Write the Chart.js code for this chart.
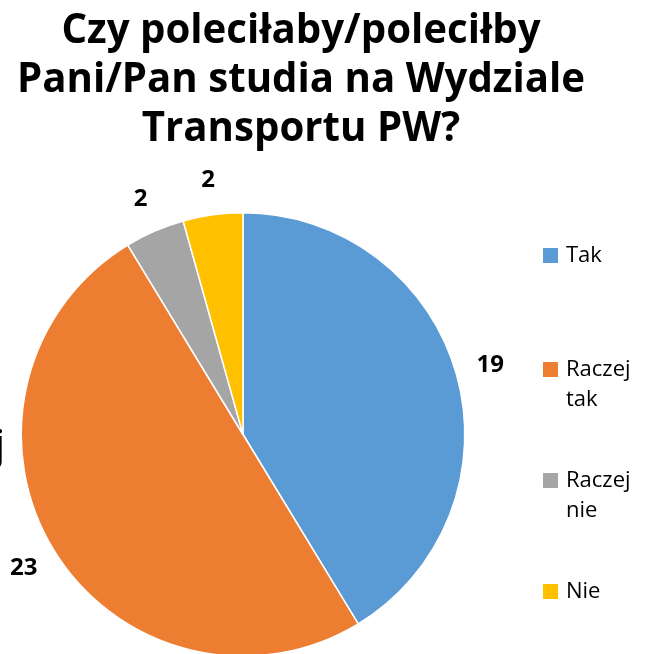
<!DOCTYPE html>
<html lang="pl">
<head>
<meta charset="utf-8">
<title>Czy poleciłaby/poleciłby Pani/Pan studia na Wydziale Transportu PW?</title>
<script src="https://cdn.jsdelivr.net/npm/chart.js@4/dist/chart.umd.min.js"></script>
<style>
    html, body { margin: 0; padding: 0; background: #fff; overflow: hidden; }
    #wykres-box { position: relative; width: 648px; height: 660px; }
</style>
</head>
<body>
<div id="wykres-box"><canvas id="wykresPolecenie"></canvas></div>
<script>
// Dane z ankiety
const kategorie = ['Tak', 'Raczej tak', 'Raczej nie', 'Nie'];
const odpowiedzi = [19, 23, 2, 2];
const kolory = ['#5B9BD5', '#ED7D31', '#A5A5A5', '#FFC000'];
const tytulLinie = ['Czy poleciłaby/poleciłby', 'Pani/Pan studia na Wydziale', 'Transportu PW?'];

// Ustawienia wyglądu (tytuł, legenda, etykiety)
const CZCIONKA = '"Open Sans", "DejaVu Sans", sans-serif';
const TYTUL_SRODEK_X = 301;
const TYTUL_BAZY_Y = [43, 92, 141];
const TYTUL_SZEROKOSC_L2 = 568;
const LEGENDA_X = 543;
const LEGENDA_BAZY_Y = [262, 376, 487, 598];
const LEGENDA_ODSTEP_LINII = 30;
const ETYKIETA_ODSUNIECIE = 35;

let wykresPolecenie = null;

document.addEventListener('DOMContentLoaded', function() {
    initializeWykres();
});

// Plugin rysujący tytuł, etykiety wartości i legendę
const dodatkiPlugin = {
    id: 'dodatkiPlugin',
    afterDraw(chart) {
        const ctx = chart.ctx;
        ctx.save();
        ctx.fillStyle = '#000';

        // Tytuł - czcionka zwężona w poziomie, jak Calibri w oryginale
        ctx.font = 'bold 42px ' + CZCIONKA;
        ctx.textAlign = 'center';
        ctx.textBaseline = 'alphabetic';
        const sx = TYTUL_SZEROKOSC_L2 / ctx.measureText(tytulLinie[1]).width;
        tytulLinie.forEach((linia, i) => {
            ctx.save();
            ctx.translate(TYTUL_SRODEK_X, TYTUL_BAZY_Y[i]);
            ctx.scale(sx, 1);
            ctx.fillText(linia, 0, 0);
            ctx.restore();
        });

        // Etykiety wartości poza wycinkami
        const meta = chart.getDatasetMeta(0);
        ctx.font = 'bold 24px ' + CZCIONKA;
        ctx.textBaseline = 'middle';
        meta.data.forEach((arc, i) => {
            const p = arc.getProps(['x', 'y', 'startAngle', 'endAngle', 'outerRadius'], true);
            const kat = (p.startAngle + p.endAngle) / 2;
            const r = p.outerRadius + ETYKIETA_ODSUNIECIE;
            ctx.fillText(String(chart.data.datasets[0].data[i]), p.x + r * Math.cos(kat), p.y + r * Math.sin(kat));
        });

        // Legenda po prawej
        ctx.font = '22px ' + CZCIONKA;
        ctx.textAlign = 'left';
        ctx.textBaseline = 'alphabetic';
        chart.data.labels.forEach((label, i) => {
            const y = LEGENDA_BAZY_Y[i];
            ctx.fillStyle = chart.data.datasets[0].backgroundColor[i];
            ctx.fillRect(LEGENDA_X, y - 14, 15, 15);
            ctx.fillStyle = '#000';
            label.split(' ').forEach((linia, j) => {
                ctx.fillText(linia, LEGENDA_X + 23, y + j * LEGENDA_ODSTEP_LINII);
            });
        });

        // Ucięta litera przy lewej krawędzi (jak w oryginale)
        ctx.font = '40px ' + CZCIONKA;
        ctx.textAlign = 'right';
        ctx.fillText('j', 5, 458);

        ctx.restore();
    }
};

function initializeWykres() {
    const ctxWykres = document.getElementById('wykresPolecenie');
    if (ctxWykres) {
        wykresPolecenie = new Chart(ctxWykres.getContext('2d'), {
            type: 'pie',
            data: {
                labels: kategorie,
                datasets: [{
                    data: odpowiedzi,
                    backgroundColor: kolory,
                    borderColor: '#ffffff',
                    borderWidth: 1.5
                }]
            },
            options: {
                responsive: true,
                maintainAspectRatio: false,
                animation: false,
                layout: {
                    padding: { top: 212, left: 20, right: 182, bottom: 3 }
                },
                plugins: {
                    legend: { display: false },
                    title: { display: false },
                    tooltip: { enabled: false }
                }
            },
            plugins: [dodatkiPlugin]
        });
    }
}
</script>
</body>
</html>
